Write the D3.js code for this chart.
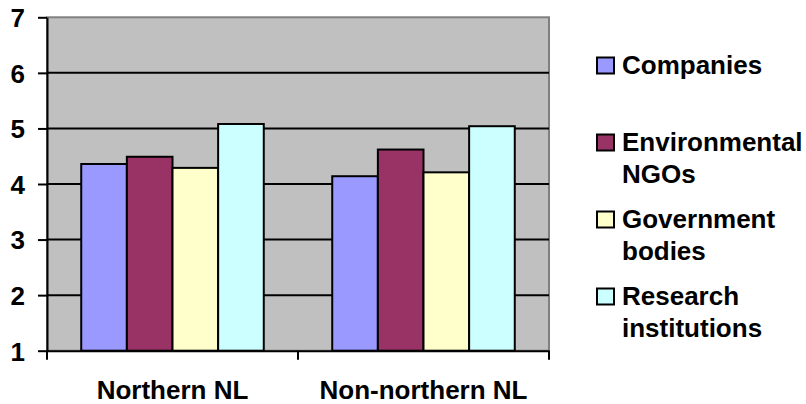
<!DOCTYPE html>
<html>
<head>
<meta charset="utf-8">
<script src="https://cdn.jsdelivr.net/npm/d3@7"></script>
<style>
  html, body { margin: 0; padding: 0; background: #fff; }
  svg { display: block; }
  text { font-family: "Liberation Sans", Arial, Helvetica, sans-serif; font-weight: bold; fill: #000; }
</style>
</head>
<body>
<div id="chart"></div>
<script>
// ---- data ----
const categories = ["Northern NL", "Non-northern NL"];
const seriesNames = ["Companies", "Environmental NGOs", "Government bodies", "Research institutions"];
const legendLines = [["Companies"], ["Environmental", "NGOs"], ["Government", "bodies"], ["Research", "institutions"]];
const companies = [4.36, 4.14];
const environmentalNGOs = [4.49, 4.62];
const governmentBodies = [4.29, 4.21];
const researchInstitutions = [5.08, 5.04];
const yTicks = [1, 2, 3, 4, 5, 6, 7];
const colors = ["#9999FF", "#993366", "#FFFFCC", "#CCFFFF"];

const seriesValues = [companies, environmentalNGOs, governmentBodies, researchInstitutions];

// ---- layout ----
const W = 806, H = 404;
const plot = { left: 47, right: 549, top: 17.3, bottom: 350.7 };

const svg = d3.select("#chart").append("svg").attr("width", W).attr("height", H);
svg.append("rect").attr("width", W).attr("height", H).attr("fill", "#fff");

const x = d3.scaleBand().domain(categories).range([plot.left, plot.right]).paddingInner(0).paddingOuter(0);
const xs = d3.scaleBand().domain(seriesNames).range([0, x.bandwidth()]).paddingInner(0).paddingOuter(0.75);
const y = d3.scaleLinear().domain([1, 7]).range([plot.bottom, plot.top]);

// plot area
svg.append("rect")
  .attr("x", plot.left).attr("y", plot.top)
  .attr("width", plot.right - plot.left).attr("height", plot.bottom - plot.top)
  .attr("fill", "#C0C0C0").attr("stroke", "#808080").attr("stroke-width", 2);

// gridlines
svg.append("g").selectAll("line")
  .data(yTicks.filter(v => v > 1 && v < 7))
  .join("line")
  .attr("x1", plot.left).attr("x2", plot.right)
  .attr("y1", d => y(d)).attr("y2", d => y(d))
  .attr("stroke", "#000").attr("stroke-width", 2);

// bars
const groups = svg.append("g").selectAll("g")
  .data(categories)
  .join("g")
  .attr("transform", c => `translate(${x(c)},0)`);

groups.selectAll("rect")
  .data((c, ci) => seriesNames.map((s, si) => ({ s, si, v: seriesValues[si][ci] })))
  .join("rect")
  .attr("x", d => xs(d.s))
  .attr("width", xs.bandwidth())
  .attr("y", d => y(d.v))
  .attr("height", d => y(1) - y(d.v))
  .attr("fill", d => colors[d.si])
  .attr("stroke", "#000").attr("stroke-width", 2);

// y axis
const yAxis = svg.append("g")
  .attr("transform", `translate(${plot.left},0)`)
  .call(d3.axisLeft(y).tickValues(yTicks).tickFormat(d3.format("d")).tickSize(9).tickSizeOuter(0).tickPadding(13));
yAxis.select(".domain").attr("stroke", "#000").attr("stroke-width", 2);
yAxis.selectAll(".tick line").attr("stroke", "#000").attr("stroke-width", 2);
yAxis.selectAll(".tick text").attr("font-size", 26).attr("font-family", null).attr("dy", "0.36em");

// x axis
const xAxis = svg.append("g")
  .attr("transform", `translate(0,${plot.bottom})`)
  .call(d3.axisBottom(x).tickSize(0).tickSizeOuter(0).tickPadding(30));
xAxis.select(".domain").attr("stroke", "#000").attr("stroke-width", 2);
xAxis.selectAll(".tick text").attr("font-size", 26).attr("font-family", null);

// boundary ticks on x axis
const bounds = categories.map(c => x(c)).concat([x(categories[categories.length - 1]) + x.bandwidth()]);
svg.append("g").selectAll("line")
  .data(bounds)
  .join("line")
  .attr("x1", d => d).attr("x2", d => d)
  .attr("y1", plot.bottom).attr("y2", plot.bottom + 9)
  .attr("stroke", "#000").attr("stroke-width", 2);

// legend
const legend = svg.append("g");
const legX = 597, legTextX = 622, firstBase = 74, itemStep = 77, lineStep = 32, sq = 17;
legendLines.forEach((lines, i) => {
  const base = firstBase + i * itemStep;
  legend.append("rect")
    .attr("x", legX).attr("y", base - sq + 0.5)
    .attr("width", sq).attr("height", sq - 1)
    .attr("fill", colors[i]).attr("stroke", "#000").attr("stroke-width", 2);
  lines.forEach((t, li) => {
    legend.append("text")
      .attr("x", legTextX).attr("y", base + li * lineStep)
      .attr("font-size", 26)
      .text(t);
  });
});
</script>
</body>
</html>
